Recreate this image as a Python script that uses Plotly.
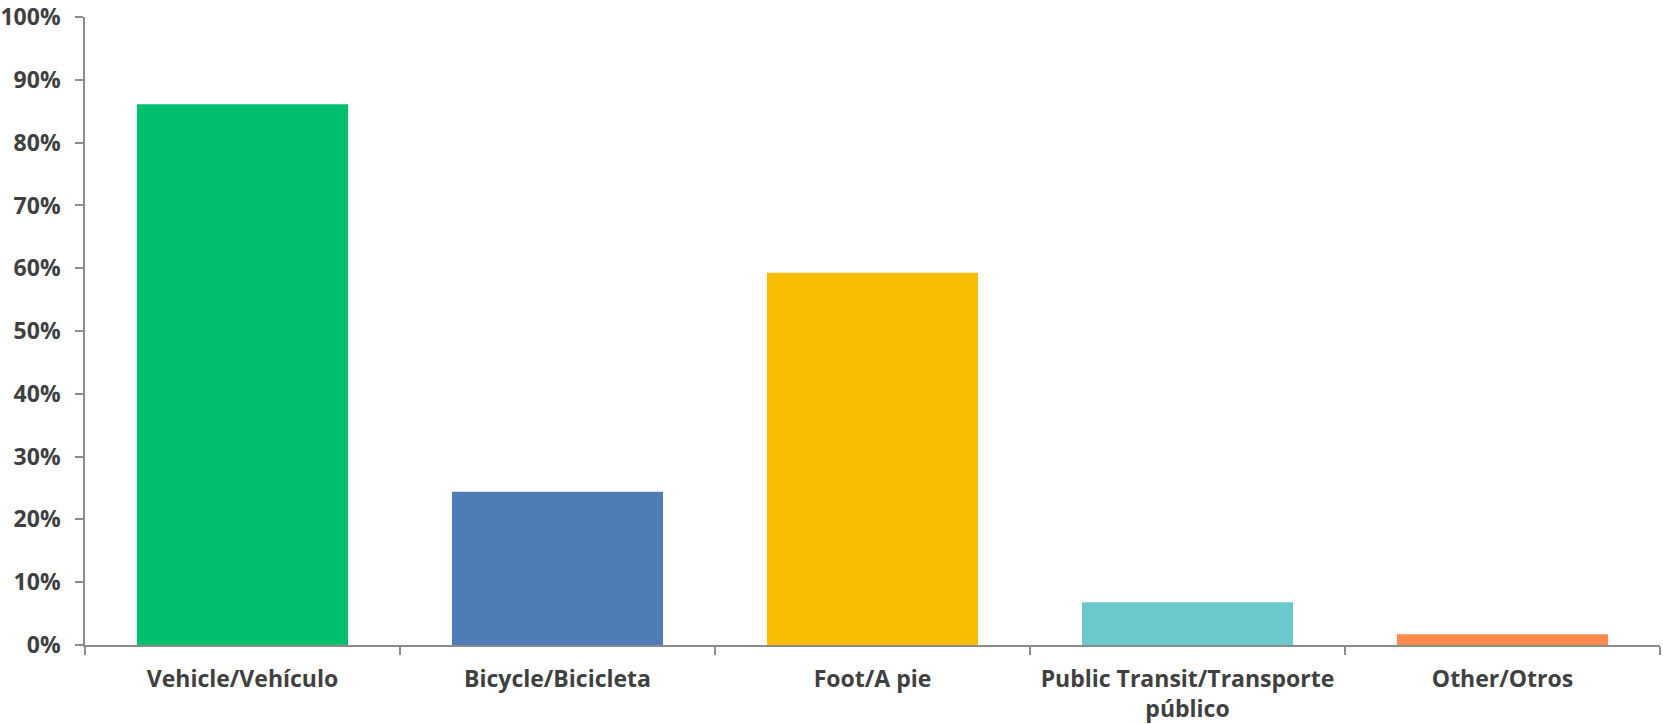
import plotly.graph_objects as go

# travel mode shares
modes = ["Vehicle/Vehículo", "Bicycle/Bicicleta", "Foot/A pie",
         "Public Transit/Transporte<br>público", "Other/Otros"]
shares = [0.861, 0.244, 0.593, 0.068, 0.017]
bar_colors = ["#00BF6F", "#4F7CB4", "#F9BE00", "#6CC8CC", "#FF8B4F"]

y_ticks = [0, 0.1, 0.2, 0.3, 0.4, 0.5, 0.6, 0.7, 0.8, 0.9, 1.0]

axis_gray = "#8C8C8C"
label_font = dict(family="Open Sans", size=23, color="#404040", weight="bold")

fig = go.Figure([go.Bar(x=modes, y=shares, marker_color=bar_colors,
                        marker_line_width=0, width=0.67)])

fig.update_layout(
    width=1663, height=724,
    margin=dict(l=85, r=3, t=17, b=79),
    plot_bgcolor="white", paper_bgcolor="white",
    showlegend=False,
)
fig.update_xaxes(
    showline=True, linecolor=axis_gray, linewidth=1.5,
    ticks="outside", tickson="boundaries", ticklen=8, tickcolor=axis_gray,
    tickwidth=1.5, tickfont=label_font, showgrid=False,
    ticklabelstandoff=13, automargin=False, ticklabeloverflow="allow",
)
fig.update_yaxes(
    range=[0, 1.0001], tickvals=y_ticks, tickformat=".0%",
    showline=True, linecolor=axis_gray, linewidth=1.5,
    ticks="outside", ticklen=8, tickcolor=axis_gray, tickwidth=1.5,
    tickfont=label_font, showgrid=False, zeroline=False,
    ticklabelstandoff=10, automargin=False, ticklabeloverflow="allow",
)

# drop the default 8px body margin so the figure fills the window
fig.write_html("out.html", config={"displayModeBar": False},
               post_script="document.body.style.margin = '0';")
